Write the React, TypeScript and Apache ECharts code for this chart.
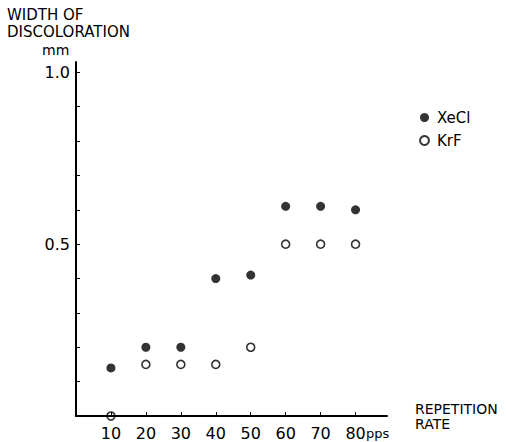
import React, { useEffect, useRef } from "react";
import * as echarts from "echarts";

const rates = [10, 20, 30, 40, 50, 60, 70, 80];
const xecl = [0.14, 0.2, 0.2, 0.4, 0.41, 0.61, 0.61, 0.6];
const krf = [0, 0.15, 0.15, 0.15, 0.2, 0.5, 0.5, 0.5];
const yTicks = [0.1, 0.2, 0.3, 0.4, 0.5, 0.6, 0.7, 0.8, 0.9, 1.0];
const yLabels = [0.5, 1.0];
const xTicks = [10, 20, 30, 40, 50, 60, 70, 80];

const FONT = "DejaVu Sans, Verdana, sans-serif";

export default function App() {
  const ref = useRef<HTMLDivElement>(null);
  useEffect(() => {
    if (!ref.current) return;
    const chart = echarts.init(ref.current, null, { renderer: "svg" });
    const text = { color: "#000", fontFamily: FONT, fontSize: 14 };
    chart.setOption({
      animation: false,
      backgroundColor: "#fff",
      grid: { left: 76, top: 62, right: 119, bottom: 26 },
      xAxis: {
        type: "value",
        min: 0,
        max: 89,
        splitLine: { show: false },
        axisLine: { show: true, onZero: false, lineStyle: { color: "#000", width: 2 } },
        axisTick: { show: true, inside: true, length: 4, customValues: xTicks, lineStyle: { color: "#000", width: 1 } },
        axisLabel: { ...text, fontSize: 16, margin: 9, customValues: xTicks },
        name: "REPETITION\nRATE",
        nameLocation: "end",
        nameGap: 28,
        nameTextStyle: { ...text, fontSize: 14, align: "left", verticalAlign: "middle", lineHeight: 15, padding: [8, 0, 0, 0] },
      },
      yAxis: {
        type: "value",
        min: 0,
        max: 1.03,
        splitLine: { show: false },
        axisLine: { show: true, onZero: false, lineStyle: { color: "#000", width: 2 } },
        axisTick: { show: true, inside: true, length: 4, customValues: yTicks, lineStyle: { color: "#000", width: 1 } },
        axisLabel: { ...text, fontSize: 16, margin: 6, customValues: yLabels, formatter: (v: number) => v.toFixed(1) },
      },
      legend: {
        orient: "vertical",
        left: 414,
        top: 105,
        itemWidth: 9,
        itemHeight: 9,
        itemGap: 8,
        textStyle: { ...text, fontSize: 15, padding: [0, 0, 0, 3] },
        data: ["XeCl", "KrF"],
      },
      graphic: [
        { type: "text", left: 7, top: 7, style: { text: "WIDTH OF", ...text, fill: "#000", fontSize: 15 } },
        { type: "text", left: 7, top: 24, style: { text: "DISCOLORATION", ...text, fill: "#000", fontSize: 15 } },
        { type: "text", left: 42, top: 43, style: { text: "mm", ...text, fill: "#000", fontSize: 14 } },
        { type: "text", left: 366, top: 427, style: { text: "pps", ...text, fill: "#000", fontSize: 13 } },
      ],
      series: [
        {
          name: "XeCl",
          type: "scatter",
          symbol: "circle",
          symbolSize: 9,
          clip: false,
          itemStyle: { color: "#000" },
          data: rates.map((r, i) => [r, xecl[i]]),
        },
        {
          name: "KrF",
          type: "scatter",
          symbol: "circle",
          symbolSize: 8,
          clip: false,
          itemStyle: { color: "rgba(255,255,255,0)", borderColor: "#000", borderWidth: 1.6 },
          data: rates.map((r, i) => [r, krf[i]]),
        },
      ],
    });
    return () => chart.dispose();
  }, []);
  return <div ref={ref} style={{ position: "fixed", left: 0, top: 0, width: 506, height: 442 }} />;
}
